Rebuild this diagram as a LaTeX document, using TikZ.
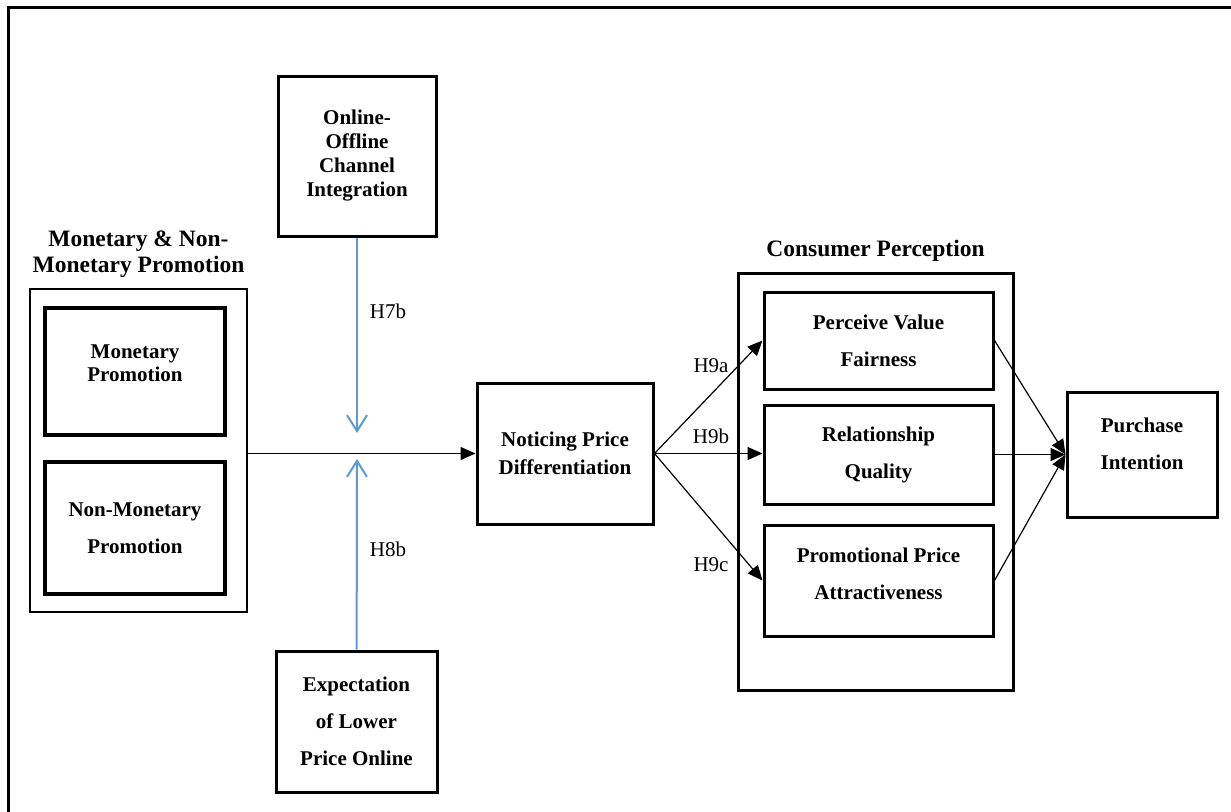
\documentclass[tikz,border=0pt]{standalone}
\usepackage{fontspec}
\setmainfont{Liberation Serif}
\usetikzlibrary{positioning, calc, arrows.meta}
\definecolor{modblue}{RGB}{91,155,213}

\begin{document}
\begin{tikzpicture}[x=1pt, y=-1pt,
box/.style={draw, line width=3pt, align=center, inner sep=0pt,
  font=\bfseries\fontsize{21}{37}\selectfont},
inbox/.style={box, line width=4.5pt, minimum width=180pt},
title/.style={align=center, inner sep=0pt, font=\bfseries\fontsize{23.5}{26}\selectfont},
hyp/.style={font=\fontsize{21}{25}\selectfont},
blk/.style={line width=1.2pt, -{Triangle[length=15pt,width=13pt]}},
mod/.style={draw=modblue, line width=2pt, -{Straight Barb[length=16pt,width=20pt]}}]

\useasboundingbox (0,0) rectangle (1231,811);
\draw[line width=3pt] (8.7,820) -- (8.7,7.5) -- (1240,7.5);

%promotion
\node[box, line width=2.5pt, minimum width=217pt, minimum height=323pt] (promo) at (138.5,450.5) {};
\node[title, above=10pt of promo] (promotitle) {Monetary \& Non-\\Monetary Promotion};
\node[inbox, minimum height=127pt, font=\bfseries\fontsize{21}{23}\selectfont, text depth=17pt] (mon) at (135,371.5) {Monetary\\Promotion};
\node[inbox, minimum height=132pt] (nonmon) at (135,528) {Non-Monetary\\Promotion};

%moderators
\node[box, minimum width=158pt, minimum height=160pt, font=\bfseries\fontsize{21}{24}\selectfont] (online) at (357,156) {Online-\\Offline\\Channel\\Integration};
\node[box, minimum width=161pt, minimum height=141pt] (expect) at (356.5,721.5) {Expectation\\of Lower\\Price Online};

%mediator
\node[box, minimum width=176pt, minimum height=141pt, font=\bfseries\fontsize{21}{28}\selectfont] (notice) at (565,453.5) {Noticing Price\\Differentiation};

%consumer perception
\node[box, minimum width=275pt, minimum height=417pt] (percep) at (875.5,481.5) {};
\node[title, above=10pt of percep] (perceptitle) {Consumer Perception};
\node[box, minimum width=229pt, minimum height=97pt] (pvf) at (878.5,340.5) {Perceive Value\\Fairness};
\node[box, minimum width=229pt, minimum height=99pt] (rq) at (878.5,454.5) {Relationship\\Quality};
\node[box, minimum width=229pt, minimum height=111pt, text depth=13pt] (ppa) at (878.5,580.5) {Promotional Price\\Attractiveness};

%outcome
\node[box, minimum width=150pt, minimum height=125pt, text depth=21pt] (purchase) at (1142,454.5) {Purchase\\Intention};

%paths
\coordinate (h7tip) at (357,433);
\coordinate (h8tip) at (357,459);
\draw[blk] (promo.east |- notice.west) -- (notice.west);
\draw[mod] (online) -- (h7tip);
\draw[mod] (expect) -- (h8tip);
\node[hyp] (h7b) at (388,311) {H7b};
\node[hyp] (h8b) at (388,549) {H8b};

\draw[blk] (notice.east) -- (pvf.west);
\draw[blk] (notice.east) -- (notice.east -| rq.west);
\draw[blk] (notice.east) -- (ppa.west);
\foreach \T in {pvf,rq,ppa}
{\draw[blk] (\T.east) -- (purchase.west);}

\node[hyp] (h9a) at (711,366) {H9a};
\node[hyp] (h9b) at (711,436) {H9b};
\node[hyp] (h9c) at (711,565) {H9c};
\end{tikzpicture}
\end{document}
